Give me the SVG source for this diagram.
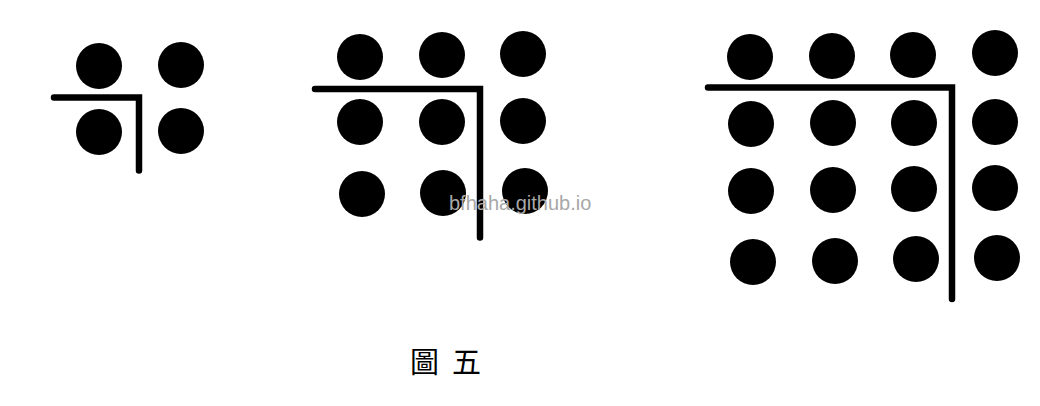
<svg xmlns="http://www.w3.org/2000/svg" width="1040" height="406" viewBox="0 0 1040 406">
  <style>
    .dot { fill: #000; }
    .bar { fill: none; stroke: #000; stroke-width: 6.5; stroke-linecap: round; stroke-linejoin: miter; }
    .cap { font-family: "Noto Sans CJK TC", "Noto Sans CJK SC", serif; font-size: 29px; fill: #000; }
    .wm { font-family: "Liberation Sans", Arial, sans-serif; font-size: 20px; fill: #a8a8a8; }
  </style>
  <rect width="1040" height="406" fill="#fff"/>
  <g id="figure-2x2">
    <circle class="dot" cx="99" cy="66" r="23"/>
    <circle class="dot" cx="181" cy="65" r="23"/>
    <circle class="dot" cx="99" cy="132" r="23"/>
    <circle class="dot" cx="181" cy="131" r="23"/>
  </g>
  <g id="figure-3x3">
    <circle class="dot" cx="360" cy="57" r="23"/>
    <circle class="dot" cx="442" cy="55" r="23"/>
    <circle class="dot" cx="523" cy="54" r="23"/>
    <circle class="dot" cx="360" cy="122" r="23"/>
    <circle class="dot" cx="442" cy="122" r="23"/>
    <circle class="dot" cx="523" cy="121" r="23"/>
    <circle class="dot" cx="362" cy="194" r="23"/>
    <circle class="dot" cx="443" cy="193" r="23"/>
    <circle class="dot" cx="525" cy="191" r="23"/>
  </g>
  <g id="figure-4x4">
    <circle class="dot" cx="750" cy="57" r="23"/>
    <circle class="dot" cx="832" cy="56" r="23"/>
    <circle class="dot" cx="913" cy="55" r="23"/>
    <circle class="dot" cx="995" cy="53" r="23"/>
    <circle class="dot" cx="751" cy="124" r="23"/>
    <circle class="dot" cx="833" cy="123" r="23"/>
    <circle class="dot" cx="914" cy="123" r="23"/>
    <circle class="dot" cx="995" cy="122" r="23"/>
    <circle class="dot" cx="751" cy="191" r="23"/>
    <circle class="dot" cx="833" cy="190" r="23"/>
    <circle class="dot" cx="914" cy="189" r="23"/>
    <circle class="dot" cx="995" cy="188" r="23"/>
    <circle class="dot" cx="753" cy="262" r="23"/>
    <circle class="dot" cx="835" cy="261" r="23"/>
    <circle class="dot" cx="916" cy="259" r="23"/>
    <circle class="dot" cx="997" cy="258" r="23"/>
  </g>
  <g id="connectors">
    <path class="bar" d="M54 97.5 H139 V170.5"/>
    <path class="bar" d="M315 89 H480 V237.5"/>
    <path class="bar" d="M708 87.5 H952 V299"/>
  </g>
  <g id="caption">
    <text class="cap" x="410" y="373" letter-spacing="13">圖五</text>
  </g>
  <g id="watermark">
    <text class="wm" x="449" y="210">bfhaha.github.io</text>
  </g>
</svg>
